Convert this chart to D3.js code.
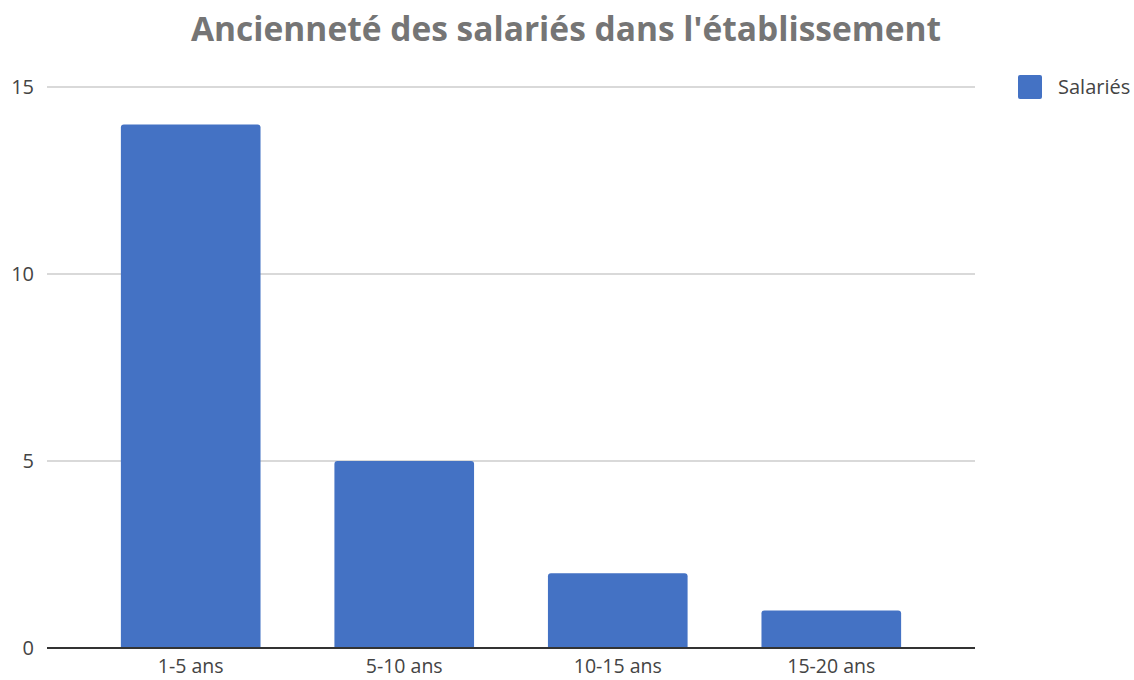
<!DOCTYPE html>
<html>
<head>
<meta charset="utf-8">
<script src="https://cdn.jsdelivr.net/npm/d3@7"></script>
<style>
  body { margin: 0; background: #fff; }
  text { font-family: "Open Sans", sans-serif; }
</style>
</head>
<body>
<div id="vis"></div>
<script>
// chart data
const categories = ["1-5 ans", "5-10 ans", "10-15 ans", "15-20 ans"];
const salaries = [14, 5, 2, 1];
const yTicks = [0, 5, 10, 15];
const seriesName = "Salariés";
const title = "Ancienneté des salariés dans l'établissement";

const WIDTH = 1134;
const HEIGHT = 680;
const MARGINS = {left: 47, right: 159, top: 87, bottom: 32};
const BAR_COLOR = "#4472c4";

const svg = d3.select("#vis")
  .append("svg")
    .attr("width", WIDTH)
    .attr("height", HEIGHT);

const X_SCALE = d3.scaleBand()
  .domain(categories)
  .range([MARGINS.left, WIDTH - MARGINS.right])
  .paddingInner(0.346)
  .paddingOuter(0.346);

const Y_SCALE = d3.scaleLinear()
  .domain([0, 15])
  .range([HEIGHT - MARGINS.bottom, MARGINS.top]);

// gridlines
svg.append("g")
  .selectAll("line")
  .data(yTicks.filter(d => d > 0))
  .enter()
  .append("line")
    .attr("x1", MARGINS.left)
    .attr("x2", WIDTH - MARGINS.right)
    .attr("y1", d => Y_SCALE(d))
    .attr("y2", d => Y_SCALE(d))
    .attr("stroke", "#cccccc")
    .attr("stroke-width", 1.5);

// y tick labels
svg.append("g")
  .selectAll("text")
  .data(yTicks)
  .enter()
  .append("text")
    .attr("x", 34)
    .attr("y", d => Y_SCALE(d))
    .attr("dy", "0.35em")
    .attr("text-anchor", "end")
    .attr("font-size", 20)
    .attr("fill", "#444")
    .text(d => d);

// bars with rounded top corners
const R = 3;
svg.append("g")
  .selectAll("path")
  .data(salaries)
  .enter()
  .append("path")
    .attr("fill", BAR_COLOR)
    .attr("d", (d, i) => {
      const x0 = X_SCALE(categories[i]);
      const w = X_SCALE.bandwidth();
      const y0 = Y_SCALE(d);
      const yb = Y_SCALE(0);
      return `M${x0},${yb} V${y0 + R} Q${x0},${y0} ${x0 + R},${y0} H${x0 + w - R} Q${x0 + w},${y0} ${x0 + w},${y0 + R} V${yb} Z`;
    });

// baseline
svg.append("line")
  .attr("x1", MARGINS.left)
  .attr("x2", WIDTH - MARGINS.right)
  .attr("y1", Y_SCALE(0))
  .attr("y2", Y_SCALE(0))
  .attr("stroke", "#333")
  .attr("stroke-width", 2);

// x labels
svg.append("g")
  .selectAll("text")
  .data(categories)
  .enter()
  .append("text")
    .attr("x", d => X_SCALE(d) + X_SCALE.bandwidth() / 2)
    .attr("y", 673)
    .attr("text-anchor", "middle")
    .attr("font-size", 19.5)
    .attr("fill", "#444")
    .text(d => d);

// title
svg.append("text")
  .attr("x", 566)
  .attr("y", 41)
  .attr("text-anchor", "middle")
  .attr("font-size", 33.5)
  .attr("font-weight", "bold")
  .attr("fill", "#757575")
  .text(title);

// legend
svg.append("rect")
  .attr("x", 1018)
  .attr("y", 75)
  .attr("width", 24)
  .attr("height", 24)
  .attr("rx", 2)
  .attr("fill", BAR_COLOR);

svg.append("text")
  .attr("x", 1058)
  .attr("y", 87)
  .attr("dy", "0.35em")
  .attr("font-size", 20)
  .attr("fill", "#444")
  .text(seriesName);
</script>
</body>
</html>
